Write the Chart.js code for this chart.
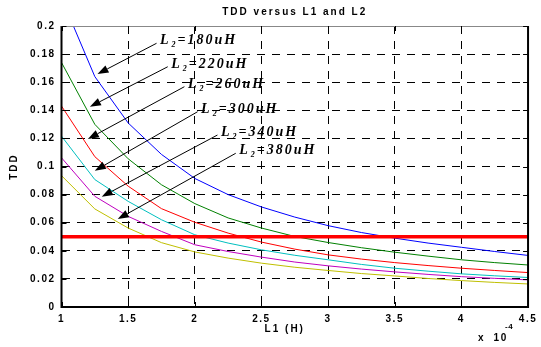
<!DOCTYPE html>
<html>
<head>
<meta charset="utf-8">
<script src="https://cdn.jsdelivr.net/npm/chart.js@4"></script>
<style>
  body { margin: 0; background: #fff; }
  canvas { display: block; }
</style>
</head>
<body>
<canvas id="tddChart" width="541" height="347"></canvas>
<script>
// L1 values (x 10^-4 H)
const l1 = [1, 1.25, 1.5, 1.75, 2, 2.25, 2.5, 2.75, 3, 3.25, 3.5, 3.75, 4, 4.25, 4.5];

// TDD for each L2
const tdd180 = [0.220, 0.164, 0.131, 0.1086, 0.0915, 0.080, 0.0712, 0.064, 0.0579, 0.053, 0.049, 0.0455, 0.0425, 0.0395, 0.0367];
const tdd220 = [0.174, 0.130, 0.1055, 0.087, 0.0736, 0.0634, 0.0562, 0.0502, 0.0459, 0.0422, 0.039, 0.0362, 0.0336, 0.0316, 0.0299];
const tdd260 = [0.143, 0.107, 0.086, 0.070, 0.0603, 0.0526, 0.0462, 0.0412, 0.0371, 0.0341, 0.0316, 0.0295, 0.0276, 0.026, 0.0245];
const tdd300 = [0.1216, 0.0907, 0.0752, 0.0621, 0.0514, 0.0455, 0.0407, 0.0368, 0.0336, 0.0303, 0.0276, 0.0255, 0.0236, 0.0222, 0.021];
const tdd340 = [0.1062, 0.0788, 0.0645, 0.0538, 0.0443, 0.0395, 0.0355, 0.032, 0.0293, 0.027, 0.025, 0.0232, 0.0216, 0.0204, 0.0193];
const tdd380 = [0.0935, 0.0698, 0.0562, 0.0458, 0.0392, 0.0348, 0.0312, 0.0283, 0.026, 0.0238, 0.0221, 0.0203, 0.0188, 0.0175, 0.0164];

// TDD limit
const tddLimit = 0.05;

// annotation labels and arrows (data units: [L1, TDD])
const l2Labels = ['180', '220', '260', '300', '340', '380'];
const arrowTails = [[1.713, 0.1877], [1.797, 0.1710], [1.922, 0.1568], [2.021, 0.1390], [2.170, 0.1224], [2.307, 0.1094]];
const arrowTips = [[1.270, 0.1658], [1.213, 0.1425], [1.198, 0.1196], [1.250, 0.0970], [1.302, 0.0785], [1.422, 0.0626]];

const curveColors = ['#0000ff', '#008000', '#ff0000', '#00bfbf', '#bf00bf', '#bfbf00'];
const curves = [tdd180, tdd220, tdd260, tdd300, tdd340, tdd380];

const toPoints = ys => ys.map((y, i) => ({ x: l1[i], y: y }));

const datasets = [{
    data: [{ x: l1[0], y: tddLimit }, { x: l1[l1.length - 1], y: tddLimit }],
    borderColor: '#ff0000',
    borderWidth: 3.5
}];
curves.forEach((c, i) => {
    datasets.push({ data: toPoints(c), borderColor: curveColors[i], borderWidth: 1 });
});

function spaced(ctx, text, x, y, align, spacing) {
    ctx.letterSpacing = spacing + 'px';
    ctx.textAlign = align;
    ctx.fillText(text, x, y);
}

// white bg, frame, ticks, titles, arrows
const decorations = {
    id: 'decorations',
    beforeDraw(chart) {
        const ctx = chart.ctx;
        ctx.save();
        ctx.fillStyle = '#fff';
        ctx.fillRect(0, 0, chart.width, chart.height);
        ctx.restore();
        ctx.letterSpacing = '1.5px';
    },
    afterDatasetsDraw(chart) {
        const ctx = chart.ctx;
        const xs = chart.scales.x, ys = chart.scales.y;
        ctx.save();
        ctx.strokeStyle = '#000';
        ctx.fillStyle = '#000';
        ctx.lineWidth = 1;
        arrowTips.forEach((tip, i) => {
            const tx = xs.getPixelForValue(tip[0]), ty = ys.getPixelForValue(tip[1]);
            const sx = xs.getPixelForValue(arrowTails[i][0]), sy = ys.getPixelForValue(arrowTails[i][1]);
            const ang = Math.atan2(ty - sy, tx - sx);
            const hl = 11, hw = 4;
            const bx = tx - hl * Math.cos(ang), by = ty - hl * Math.sin(ang);
            ctx.beginPath();
            ctx.moveTo(sx, sy);
            ctx.lineTo(bx, by);
            ctx.stroke();
            ctx.beginPath();
            ctx.moveTo(tx, ty);
            ctx.lineTo(bx + hw * Math.sin(ang), by - hw * Math.cos(ang));
            ctx.lineTo(bx - hw * Math.sin(ang), by + hw * Math.cos(ang));
            ctx.closePath();
            ctx.fill();

            // label
            let lx = sx + 3.5;
            const base = sy + 1;
            ctx.textAlign = 'left';
            ctx.textBaseline = 'alphabetic';
            ctx.letterSpacing = '2px';
            ctx.font = 'bold italic 14px "Liberation Serif"';
            ctx.fillText('L', lx, base);
            lx += ctx.measureText('L').width + 1;
            ctx.font = 'bold italic 8px "Liberation Serif"';
            ctx.fillText('2', lx, base + 3);
            lx += ctx.measureText('2').width;
            ctx.font = 'bold italic 14px "Liberation Serif"';
            ctx.fillText('=' + l2Labels[i] + 'uH', lx, base);
        });
        ctx.restore();
    },
    afterDraw(chart) {
        const ctx = chart.ctx;
        const a = chart.chartArea;
        const xs = chart.scales.x, ys = chart.scales.y;
        ctx.save();
        // frame
        ctx.strokeStyle = '#000';
        ctx.lineWidth = 2;
        ctx.beginPath();
        ctx.moveTo(a.left, a.top);
        ctx.lineTo(a.left, a.bottom);
        ctx.lineTo(a.right, a.bottom);
        ctx.lineTo(a.right, a.top);
        ctx.stroke();
        ctx.strokeStyle = '#888';
        ctx.lineWidth = 1;
        ctx.beginPath();
        ctx.moveTo(a.left, a.top + 0.5);
        ctx.lineTo(a.right, a.top + 0.5);
        ctx.stroke();
        // inner tick marks
        ctx.strokeStyle = '#000';
        ctx.beginPath();
        xs.ticks.forEach(t => {
            const p = Math.round(xs.getPixelForValue(t.value)) + 0.5;
            ctx.moveTo(p, a.bottom); ctx.lineTo(p, a.bottom - 5);
            ctx.moveTo(p, a.top); ctx.lineTo(p, a.top + 5);
        });
        ys.ticks.forEach(t => {
            const p = Math.round(ys.getPixelForValue(t.value)) + 0.5;
            ctx.moveTo(a.left, p); ctx.lineTo(a.left + 5, p);
            ctx.moveTo(a.right, p); ctx.lineTo(a.right - 5, p);
        });
        ctx.stroke();

        // texts
        ctx.fillStyle = '#000';
        ctx.textBaseline = 'middle';
        ctx.font = 'bold 10px "Liberation Sans"';
        spaced(ctx, 'TDD versus L1 and L2', (a.left + a.right) / 2, 12.5, 'center', 2);
        spaced(ctx, 'L1 (H)', (a.left + a.right) / 2 - 10, 329, 'center', 2);
        ctx.textBaseline = 'alphabetic';
        spaced(ctx, 'x  10', 478, 341, 'left', 1.5);
        ctx.font = 'bold 8px "Liberation Sans"';
        spaced(ctx, '-4', 505, 329, 'left', 0.5);
        ctx.font = 'bold 10px "Liberation Sans"';
        ctx.save();
        ctx.translate(14, (a.top + a.bottom) / 2);
        ctx.rotate(-Math.PI / 2);
        ctx.textBaseline = 'middle';
        spaced(ctx, 'TDD', 0, 0, 'center', 2);
        ctx.restore();
        ctx.restore();
    }
};

const tickFont = { family: '"Liberation Sans"', size: 10, weight: 'bold' };
const tickText = v => String(+v.toFixed(2));

new Chart(document.getElementById('tddChart'), {
    type: 'line',
    data: { datasets: datasets },
    options: {
        responsive: false,
        animation: false,
        devicePixelRatio: 1,
        layout: { padding: { top: 26, right: 11, left: 0, bottom: 0 } },
        elements: { point: { radius: 0 }, line: { tension: 0 } },
        plugins: { legend: { display: false }, tooltip: { enabled: false } },
        scales: {
            x: {
                type: 'linear',
                min: 1,
                max: 4.5,
                afterFit: s => { s.height = 40; },
                ticks: { stepSize: 0.5, color: '#000', font: tickFont, padding: 6, maxRotation: 0, callback: tickText },
                grid: { color: '#000', lineWidth: 1, drawTicks: false },
                border: { display: false, dash: [8, 7] }
            },
            y: {
                type: 'linear',
                min: 0,
                max: 0.2,
                afterFit: s => { s.width = 61.5; },
                ticks: { stepSize: 0.02, color: '#000', font: tickFont, padding: 6, callback: tickText },
                grid: { color: '#000', lineWidth: 1, drawTicks: false },
                border: { display: false, dash: [8, 7] }
            }
        }
    },
    plugins: [decorations]
});
</script>
</body>
</html>
